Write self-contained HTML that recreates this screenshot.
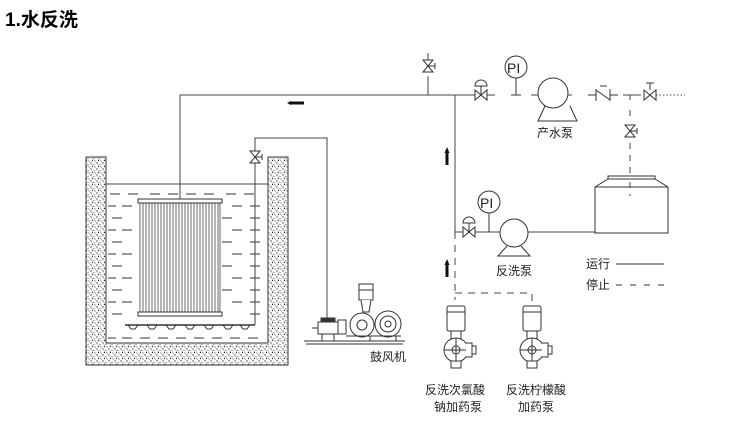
<!DOCTYPE html>
<html><head><meta charset="utf-8"><style>
body{margin:0;background:#fff;width:750px;height:427px;overflow:hidden}
svg{display:block}
text{font-family:"Liberation Sans","Noto Sans CJK SC",sans-serif;fill:#222}
</style></head><body>
<svg width="750" height="427" viewBox="0 0 750 427" xmlns="http://www.w3.org/2000/svg">
<defs>
<pattern id="sand" width="6" height="6" patternUnits="userSpaceOnUse">
<rect width="6" height="6" fill="#fff"/>
<circle cx="1" cy="1" r="0.7" fill="#444"/><circle cx="4" cy="2.5" r="0.6" fill="#555"/>
<circle cx="2.5" cy="4.5" r="0.7" fill="#333"/><circle cx="5.3" cy="5.3" r="0.5" fill="#666"/>
<path d="M1.5 2.5l1.2 0.8M5 4l-0.8 1.2" stroke="#666" stroke-width="0.5"/>
</pattern>
<g id="valve"><path d="M-6,-5 L6,5 L6,-5 L-6,5 Z" fill="#fff" stroke="#333" stroke-width="1"/></g>
<g id="vvalve"><path d="M-5,-6 L5,6 L-5,6 L5,-6 Z" fill="#fff" stroke="#333" stroke-width="1"/><path d="M0,0 H7 M7,-3 V3" stroke="#333"/></g>
</defs>
<text x="5" y="26" font-size="19" font-weight="bold" style="fill:#000">1.水反洗</text>

<!-- tank walls -->
<path d="M86,157 H106 V343 H268 V157 H288 V365 H86 Z" fill="url(#sand)" stroke="#333" stroke-width="1"/>
<line x1="106" y1="184" x2="268" y2="184" stroke="#444"/>
<g stroke="#333" stroke-width="1">
<path d="M110,194h10M128,194h10M226,194h10M244,194h10M150,194h10M168,194h10M186,194h10M204,194h10"/>
<path d="M108,206h8M122,206h10M232,206h10M250,206h10"/>
<path d="M112,218h10M222,218h10M250,218h10"/>
<path d="M108,230h8M122,230h10M232,230h10M250,230h10"/>
<path d="M112,242h10M222,242h10M250,242h10"/>
<path d="M108,254h8M122,254h10M232,254h10M250,254h10"/>
<path d="M112,266h10M222,266h10M250,266h10"/>
<path d="M108,278h8M122,278h10M232,278h10M250,278h10"/>
<path d="M112,290h10M222,290h10M250,290h10"/>
<path d="M108,302h8M122,302h10M232,302h10M250,302h10"/>
<path d="M112,314h10M250,314h10"/>
<path d="M108,338h8M122,338h10M140,338h10M158,338h10M176,338h10M194,338h10M212,338h10M230,338h10M248,338h10"/>
</g>
<!-- membrane -->
<rect x="138" y="199" width="84" height="4" fill="#fff" stroke="#333"/>
<rect x="138" y="312" width="84" height="4" fill="#fff" stroke="#333"/>
<g stroke="#444" stroke-width="0.8">
<path d="M140,203V312M143,203V312M146,203V312M149,203V312M152,203V312M155,203V312M158,203V312M161,203V312M164,203V312M167,203V312M170,203V312M173,203V312M176,203V312M179,203V312M182,203V312M185,203V312M188,203V312M191,203V312M194,203V312M197,203V312M200,203V312M203,203V312M206,203V312M209,203V312M212,203V312M215,203V312M218,203V312M220,203V312"/>
</g>
<!-- aerator -->
<line x1="125" y1="325" x2="255" y2="325" stroke="#333" stroke-width="1.5"/>
<g fill="none" stroke="#333"><path d="M128,325l3,4h4l3,-4M147,325l3,4h4l3,-4M166,325l3,4h4l3,-4M185,325l3,4h4l3,-4M204,325l3,4h4l3,-4M223,325l3,4h4l3,-4M240,325l3,4h4l3,-4"/></g>
<path d="M255,325 V138 H327 V318" fill="none" stroke="#444"/>
<use href="#vvalve" x="255" y="157"/>

<!-- main top pipe -->
<path d="M180,199 V95 H468" fill="none" stroke="#444"/>
<path d="M290,103 h14" stroke="#111" stroke-width="3"/><path d="M287,103 l4,-2 v4z" fill="#111"/>
<line x1="428" y1="95" x2="428" y2="76" stroke="#444"/>
<use href="#vvalve" x="428" y="66"/><line x1="428" y1="53" x2="428" y2="60" stroke="#444"/>
<use href="#valve" x="481" y="95"/><path d="M475,95 H468 M487,95 H495" stroke="#444"/>
<line x1="481" y1="95" x2="481" y2="86" stroke="#333"/><path d="M475,86 a6,6 0 0 1 12,0 z" fill="#fff" stroke="#333"/>
<circle cx="516" cy="67" r="11" fill="#fff" stroke="#333"/><text x="507" y="73" font-size="14">PI</text>
<path d="M516,78 V95 M511,95 H521" stroke="#333"/>
<path d="M531,95 H538" stroke="#444"/>
<circle cx="553" cy="93" r="15" fill="#fff" stroke="#333"/>
<path d="M545,106 L538,121 H577 L570,106" fill="none" stroke="#333"/>
<path d="M568,95 H572" stroke="#444"/>
<text x="537" y="137" font-size="12">产水泵</text>
<path d="M588,95 H596 M596,89 V101 M596,90 L610,100 M610,89 V101 M610,95 H618 M600,86 h7" fill="none" stroke="#333"/>
<path d="M623,95 H641 M630,95 V100" stroke="#444"/>
<use href="#valve" x="650" y="95"/><path d="M650,90 V83 M646,83 h8" stroke="#333"/>
<path d="M656,95 H685" stroke="#444" stroke-dasharray="1.5,2"/>
<use href="#vvalve" x="630" y="131"/>
<path d="M630,110 V120 M630,143 V185" stroke="#444" stroke-dasharray="6,6"/>
<!-- water tank -->
<path d="M595,233 V187 L608,179 H655 L668,187 V233 Z" fill="#fff" stroke="#333"/>
<path d="M595,187 H668 M608,179 V176 H655 V179" fill="none" stroke="#333"/>
<line x1="630" y1="182" x2="630" y2="196" stroke="#444" stroke-dasharray="6,6"/>

<!-- backwash line -->
<path d="M455,95 V232 H466" fill="none" stroke="#444"/>
<path d="M447,165 V152" stroke="#111" stroke-width="3"/><path d="M447,147 l-2.5,6 h5z" fill="#111"/>
<path d="M447,277 V264" stroke="#111" stroke-width="3"/><path d="M447,259 l-2.5,6 h5z" fill="#111"/>
<use href="#valve" x="469" y="232"/>
<line x1="469" y1="232" x2="469" y2="223" stroke="#333"/><path d="M463,223 a6,6 0 0 1 12,0 z" fill="#fff" stroke="#333"/>
<path d="M475,232 H500" stroke="#444"/>
<circle cx="489" cy="202" r="11" fill="#fff" stroke="#333"/><text x="480" y="208" font-size="14">PI</text>
<line x1="489" y1="213" x2="489" y2="232" stroke="#333"/>
<circle cx="514" cy="233" r="14" fill="#fff" stroke="#333"/>
<path d="M507,246 L498,256 H530 L521,246" fill="none" stroke="#333"/>
<path d="M528,232 H595" stroke="#444"/>
<text x="496" y="275" font-size="12">反洗泵</text>
<path d="M455,232 V300 M455,293 H532 V305" fill="none" stroke="#444" stroke-dasharray="7,6"/>

<!-- legend -->
<text x="586" y="268" font-size="12">运行</text><line x1="616" y1="264" x2="664" y2="264" stroke="#333"/>
<text x="586" y="289" font-size="12">停止</text><line x1="616" y1="285" x2="664" y2="285" stroke="#333" stroke-dasharray="6,8"/>

<!-- dosing pumps -->
<g id="dp" fill="#fff" stroke="#333" stroke-width="1">
<rect x="447" y="306" width="18" height="25" rx="2"/><line x1="447" y1="312" x2="465" y2="312"/>
<rect x="451" y="331" width="10" height="10"/>
<circle cx="456" cy="350" r="12"/><circle cx="456" cy="350" r="4"/>
<path d="M456,338V362M444,350H468"/>
<path d="M466,343 h6 v14 h-6M472,346h4v8h-4"/>
<path d="M451,361 h10 v7 h-10z"/>
</g>
<use href="#dp" x="76" y="0"/>
<text x="425" y="394" font-size="12">反洗次氯酸</text>
<text x="434" y="411" font-size="12">钠加药泵</text>
<text x="506" y="394" font-size="12">反洗柠檬酸</text>
<text x="518" y="411" font-size="12">加药泵</text>

<!-- blower -->
<g fill="#fff" stroke="#333" stroke-width="1">
<path d="M304,341 H405 M306,344 H403"/>
<rect x="318" y="322" width="20" height="12"/><rect x="321" y="318" width="14" height="4" fill="#333"/>
<path d="M312,328h6M322,334v7M334,334v7"/>
<rect x="338" y="320" width="8" height="14"/>
<circle cx="362" cy="325" r="12"/><circle cx="362" cy="325" r="5"/>
<circle cx="388" cy="324" r="13"/><circle cx="388" cy="324" r="8"/><circle cx="388" cy="324" r="3"/>
<rect x="359" y="284" width="14" height="16"/><path d="M359,290h14"/>
<path d="M361,300 l2,12 h6 l2,-12"/>
<path d="M346,336h55M370,336v5M396,336v5"/>
</g>
<text x="370" y="361" font-size="12">鼓风机</text>
</svg>
</body></html>
